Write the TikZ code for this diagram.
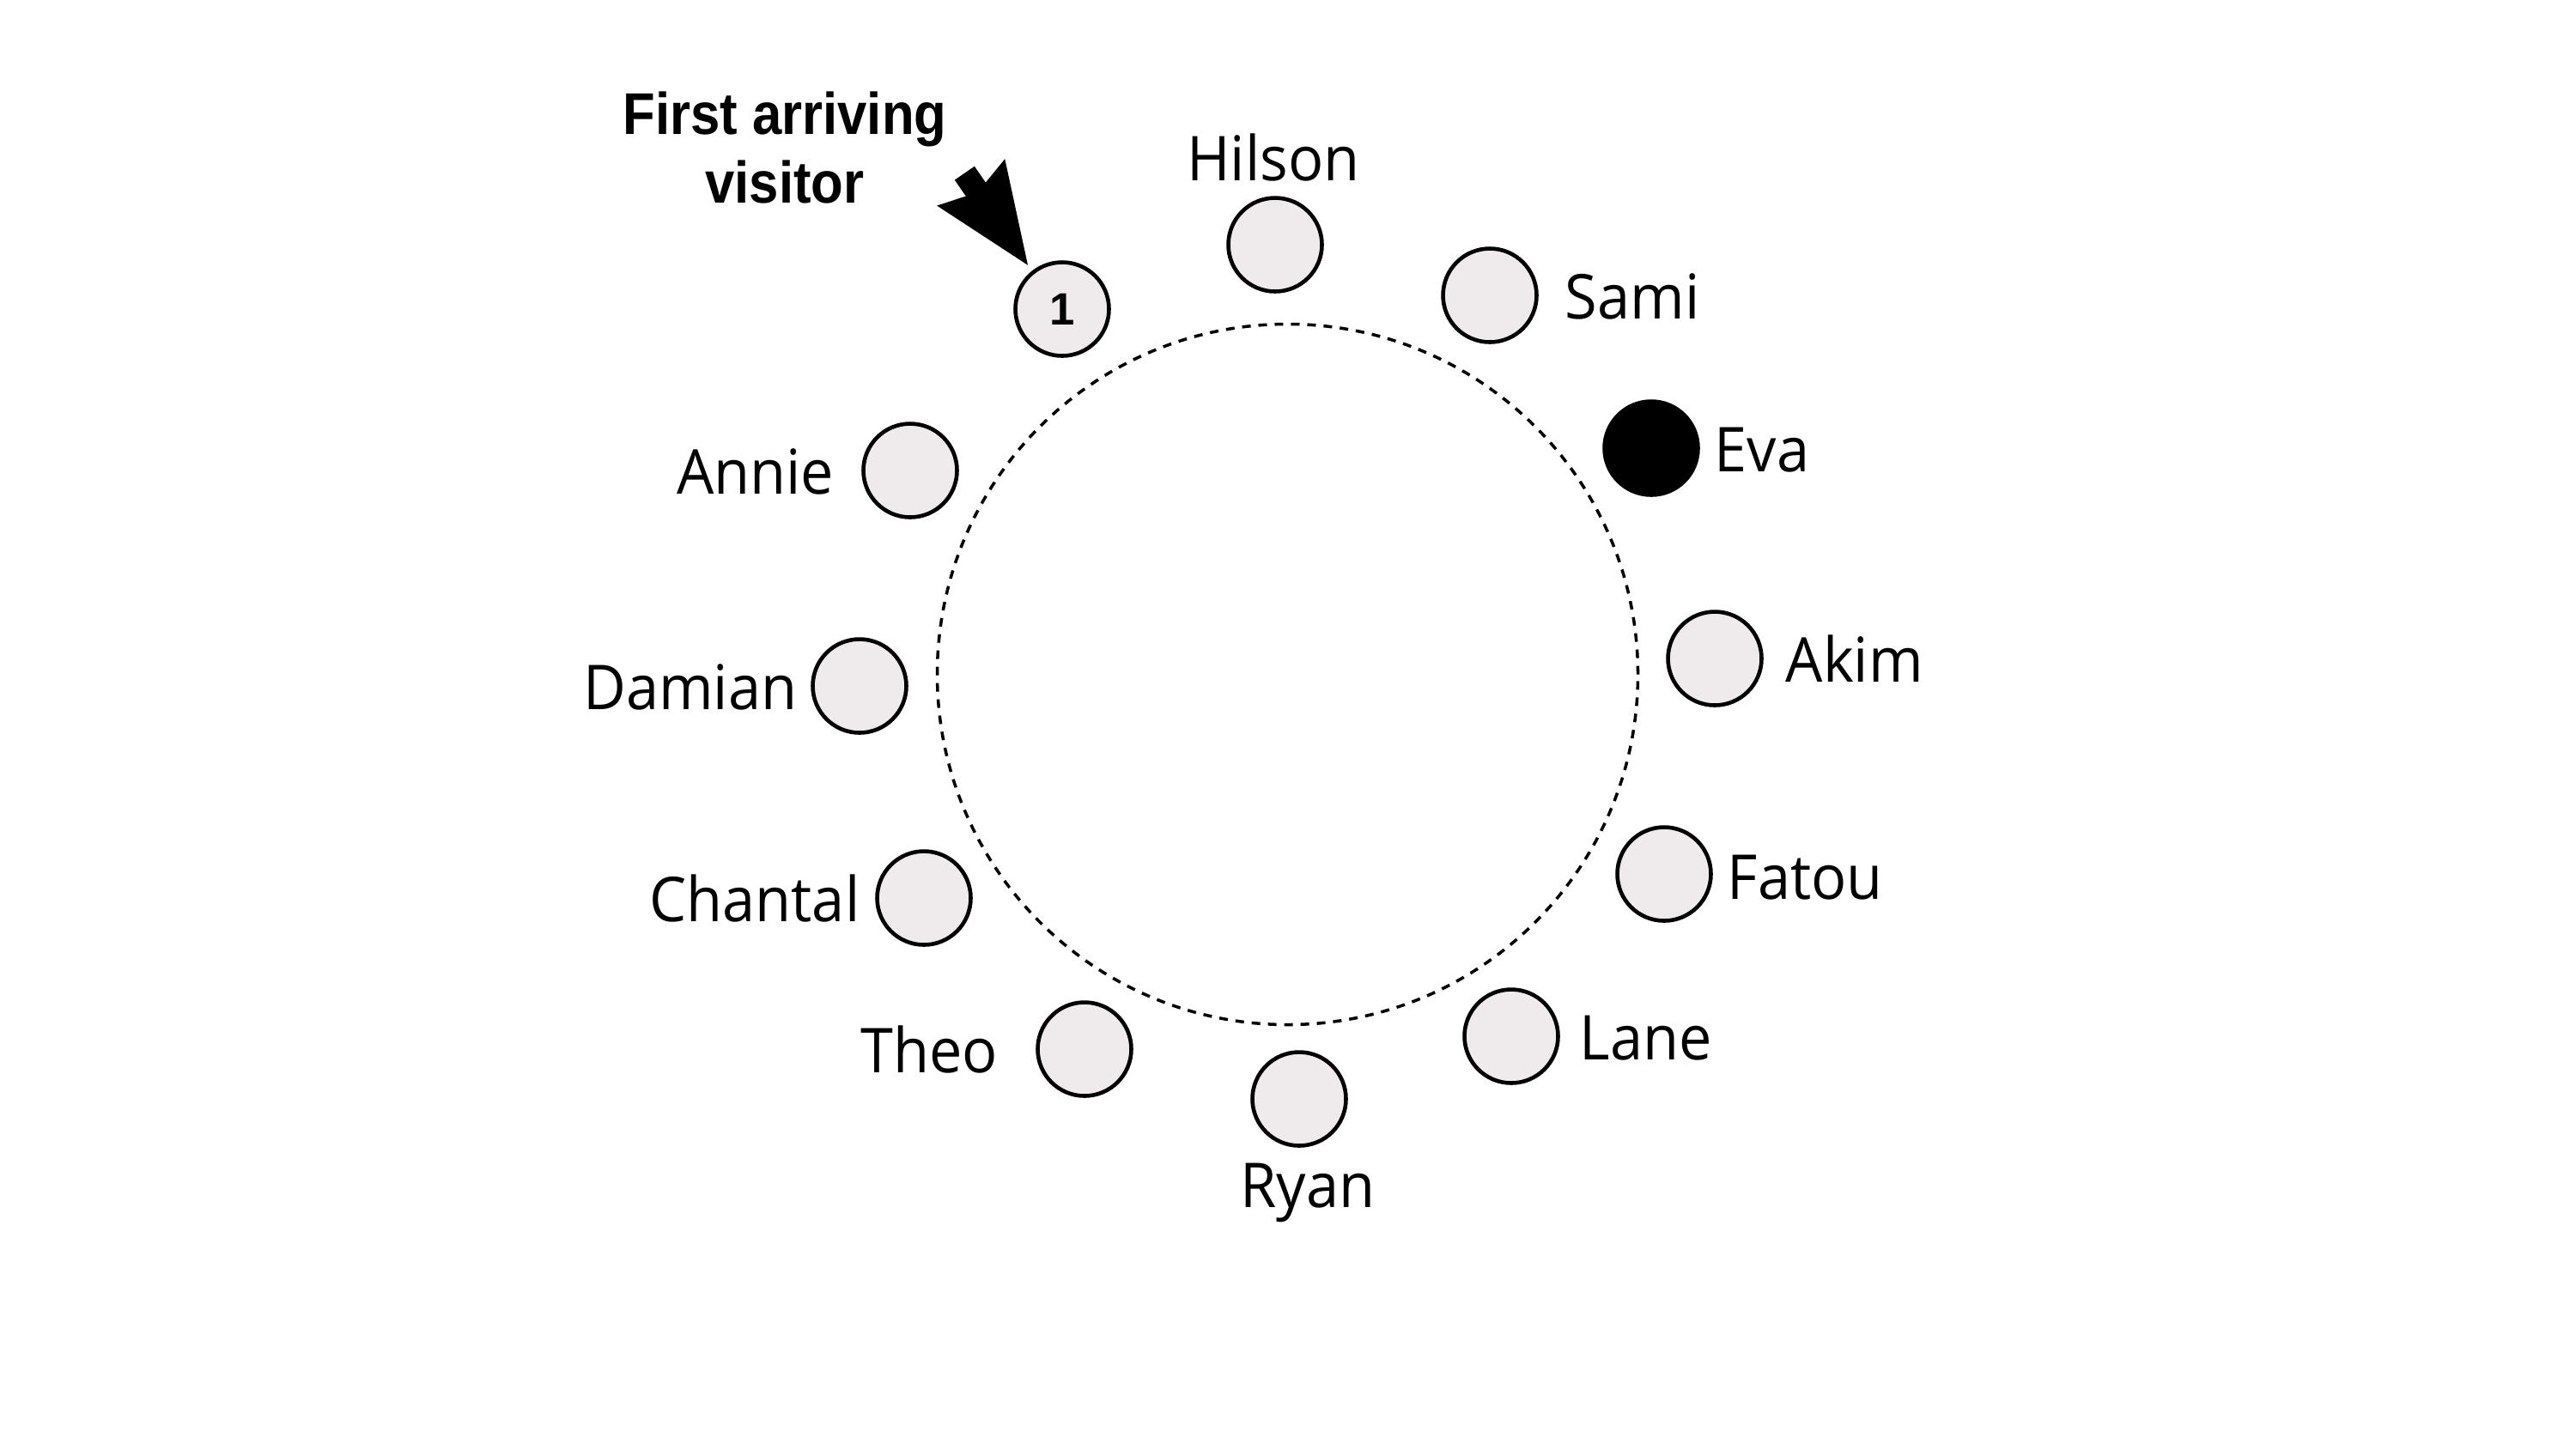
\documentclass[tikz,border=0pt]{standalone}
\usepackage{fontspec}
\setmainfont[FakeStretch=0.95]{Open Sans}
\newfontfamily\titlefont[FakeStretch=0.9]{Liberation Sans Bold}
\newfontfamily\numfont{Liberation Sans Bold}
\usetikzlibrary{arrows.meta,calc}
\definecolor{seatfill}{RGB}{239,234,236}
\tikzset{
  seat/.style={circle, draw=black, line width=1.3pt, fill=seatfill, minimum size=1.09cm, inner sep=0pt},
  host/.style={circle, draw=black, line width=1.3pt, fill=black, minimum size=1.09cm, inner sep=0pt},
  tablering/.style={circle, draw=black, line width=1pt, dash pattern=on 0.1cm off 0.09cm, minimum size=8.16cm, inner sep=0pt},
  guestname/.style={inner sep=0pt, font=\fontsize{20.5}{24}\selectfont},
  callout/.style={inner sep=0pt, align=center, font=\titlefont\fontsize{19.5}{22.5}\selectfont},
  fatarrow/.style={line width=0.28cm, -{Stealth[length=1.17cm, width=0.96cm, inset=0.14cm, line width=0pt]}}
}
\begin{document}
\begin{tikzpicture}
\useasboundingbox (0,0) rectangle (30,-16.67);
\node[tablering] (table) at (14.995,-7.855) {};
% seats
\node[seat, font=\numfont\fontsize{15}{18}\selectfont] (c1) at (12.37,-3.60) {1};
\node[seat] (hilson) at (14.85,-2.85) {};
\node[seat] (sami) at (17.35,-3.44) {};
\node[host] (eva) at (19.23,-5.22) {};
\node[seat] (akim) at (19.97,-7.67) {};
\node[seat] (fatou) at (19.38,-10.18) {};
\node[seat] (lane) at (17.60,-12.07) {};
\node[seat] (ryan) at (15.13,-12.80) {};
\node[seat] (theo) at (12.63,-12.22) {};
\node[seat] (chantal) at (10.76,-10.46) {};
\node[seat] (damian) at (10.01,-7.99) {};
\node[seat] (annie) at (10.60,-5.48) {};
% names
\node[guestname, anchor=base] (lhilson) at (14.83,-2.10) {Hilson};
\node[guestname, anchor=base west] (lsami) at (18.22,-3.71) {Sami};
\node[guestname, anchor=base west] (leva) at (19.96,-5.49) {Eva};
\node[guestname, anchor=base west] (lakim) at (20.79,-7.94) {Akim};
\node[guestname, anchor=base west] (lfatou) at (20.11,-10.47) {Fatou};
\node[guestname, anchor=base west] (llane) at (18.39,-12.34) {Lane};
\node[guestname, anchor=base] (lryan) at (15.23,-14.06) {Ryan};
\node[guestname, anchor=base east] (ltheo) at (11.63,-12.49) {Theo};
\node[guestname, anchor=base east] (lchantal) at (10.02,-10.73) {Chantal};
\node[guestname, anchor=base east] (ldamian) at (9.29,-8.26) {Damian};
\node[guestname, anchor=base east] (lannie) at (9.72,-5.75) {Annie};
% callout
\node[callout, anchor=base] (title) at (9.14,-2.36) {First arriving\\visitor};
\coordinate (tip) at ($(c1)+(128:0.65)$);
\coordinate (tail) at ($(tip)+(124.5:1.30)$);
\draw[fatarrow] (tail) -- (tip);
\end{tikzpicture}
\end{document}
